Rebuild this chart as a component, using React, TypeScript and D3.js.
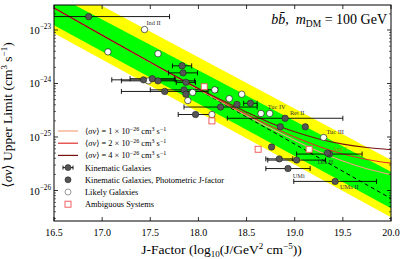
import React from "react";
import { scaleLinear, scaleLog, line, area, curveMonotoneX, format } from "d3";

const width = 407;
const height = 259;
const margin = { top: 5, right: 16, bottom: 38, left: 54 };

// expected sensitivity bands (J = 16.5 and 20.0)
const bandJ = [16.5, 20.0];
const yellowHi = [8.5e-23, 3.72e-26];
const greenHi = [4.68e-23, 2.24e-26];
const greenLo = [1.23e-23, 4.68e-27];
const yellowLo = [8.7e-24, 3.16e-27];
const median = [2.57e-23, 7.08e-27];

// limit curves for injected signals
const curveJ = [16.5, 17, 17.5, 18, 18.25, 18.5, 18.75, 19, 19.25, 19.5, 19.75, 20];
const sv1 = [2.57e-23, 7.94e-24, 2.466e-24, 7.73e-25, 4.43e-25, 2.53e-25, 1.45e-25, 8.69e-26, 5.37e-26, 3.56e-26, 2.55e-26, 1.98e-26];
const sv2 = [2.58e-23, 7.96e-24, 2.48e-24, 7.85e-25, 4.55e-25, 2.65e-25, 1.58e-25, 9.95e-26, 6.64e-26, 4.83e-26, 3.81e-26, 3.25e-26];
const sv4 = [2.58e-23, 8.0e-24, 2.51e-24, 8.1e-25, 4.81e-25, 2.91e-25, 1.83e-25, 1.25e-25, 9.18e-26, 7.36e-26, 6.35e-26, 5.79e-26];

// kinematic galaxies (filled), J-factor error half width (0 = none)
const filledJ = [16.86, 17.43, 17.52, 17.58, 17.65, 17.83, 17.84, 17.87, 17.85, 17.87, 17.97, 18.23, 18.4, 18.54, 18.9, 18.85, 19.11, 18.76, 18.84, 19.02, 19.36, 19.34, 18.93, 19.42];
const filledSv = [1.78e-23, 1.17e-24, 1.23e-24, 1.12e-24, 7.1e-25, 2.14e-24, 1.58e-24, 1.05e-24, 7.6e-25, 6.3e-25, 2.63e-25, 3.63e-25, 4.07e-25, 4.27e-25, 2.24e-25, 1.55e-25, 1.55e-25, 6.5e-26, 3.9e-26, 3.7e-26, 4.8e-26, 5.0e-26, 2.57e-26, 1.48e-26];
const filledErr = [0.84, 0.33, 0.23, 0.38, 0.45, 0.1, 0.15, 0.1, 0.35, 0, 0.18, 0.38, 0, 0.07, 0.6, 0, 0, 0, 0.14, 0.3, 0.34, 0, 0.23, 0.43];

// likely galaxies (open)
const openJ = [17.44, 17.06, 17.58, 17.48, 17.94, 17.89, 18.17, 18.32, 18.45, 18.14, 18.65, 18.74, 19.3];
const openSv = [1.02e-23, 3.9e-24, 3.6e-24, 1.12e-24, 6.8e-25, 4.8e-25, 7.6e-25, 5.2e-25, 6.3e-25, 2.63e-25, 2.75e-25, 2.75e-25, 9.8e-26];

// ambiguous systems
const ambJ = [18.06, 18.14, 18.62, 19.15];
const ambSv = [8.7e-25, 2.0e-25, 5.9e-26, 5.9e-26];

// galaxy name labels
const labelNames = ["Ind II", "Tuc IV", "Ret II", "Tuc III", "Seg 1", "Dra II", "UMi", "UMa II"];
const labelJ = [17.46, 18.72, 18.95, 19.33, 19.4, 19.24, 18.98, 19.47];
const labelSv = [1.23e-23, 3.4e-25, 2.57e-25, 1.15e-25, 5.5e-26, 3.16e-26, 1.7e-26, 1.07e-26];

const xTicks = [16.5, 17.0, 17.5, 18.0, 18.5, 19.0, 19.5, 20.0];
const yMajor = [-26, -25, -24, -23];

const legendLines = [
  { label: "1", color: "#f4a081" },
  { label: "2", color: "#e0302a" },
  { label: "4", color: "#7a1212" },
];

const serif = "'Liberation Serif', 'DejaVu Serif', serif";

const App = () => {
  const innerW = width - margin.left - margin.right;
  const innerH = height - margin.top - margin.bottom;
  const x = scaleLinear().domain([16.5, 20.0]).range([0, innerW]);
  const y = scaleLog().domain([Math.pow(10, -26.57), Math.pow(10, -22.533)]).range([innerH, 0]);

  const band = (hi: number[], lo: number[]) =>
    area<number>()
      .x((_, i) => x(bandJ[i]))
      .y0((_, i) => y(lo[i]))
      .y1((_, i) => y(hi[i]))(bandJ.map((_, i) => i)) || "";

  const curve = (vals: number[]) =>
    line<number>()
      .x((_, i) => x(curveJ[i]))
      .y((d) => y(d))
      .curve(curveMonotoneX)(vals) || "";

  const medianPath = line<number>()
    .x((_, i) => x(bandJ[i]))
    .y((d) => y(d))(median) || "";

  const minorTicks = y.ticks(40).filter((t) => {
    const l = Math.log10(t);
    return Math.abs(l - Math.round(l)) > 1e-6;
  });

  const fmt = format(".1f");

  return (
    <svg width={width} height={height} style={{ position: "absolute", left: 0, top: 0, fontFamily: serif }}>
      <defs>
        <clipPath id="plotClip">
          <rect x={0} y={0} width={innerW} height={innerH} />
        </clipPath>
      </defs>
      <g transform={`translate(${margin.left},${margin.top})`}>
        <g clipPath="url(#plotClip)">
          <path d={band(yellowHi, yellowLo)} fill="#ffff00" />
          <path d={band(greenHi, greenLo)} fill="#00ff00" />
          <path d={medianPath} fill="none" stroke="#000" strokeWidth={1} strokeDasharray="4,3" />
          <path d={curve(sv1)} fill="none" stroke={legendLines[0].color} strokeWidth={1.1} />
          <path d={curve(sv2)} fill="none" stroke={legendLines[1].color} strokeWidth={1.1} />
          <path d={curve(sv4)} fill="none" stroke={legendLines[2].color} strokeWidth={1.1} />

          {/* error bars */}
          {filledJ.map((j, i) =>
            filledErr[i] > 0 ? (
              <g key={"e" + i} stroke="#000" strokeWidth={0.9}>
                <line x1={x(j - filledErr[i])} x2={x(j + filledErr[i])} y1={y(filledSv[i])} y2={y(filledSv[i])} />
                <line x1={x(j - filledErr[i])} x2={x(j - filledErr[i])} y1={y(filledSv[i]) - 2.5} y2={y(filledSv[i]) + 2.5} />
                <line x1={x(j + filledErr[i])} x2={x(j + filledErr[i])} y1={y(filledSv[i]) - 2.5} y2={y(filledSv[i]) + 2.5} />
              </g>
            ) : null
          )}

          {openJ.map((j, i) => (
            <circle key={"o" + i} cx={x(j)} cy={y(openSv[i])} r={3.2} fill="#fff" stroke="#000" strokeWidth={0.6} />
          ))}
          {ambJ.map((j, i) => (
            <rect key={"a" + i} x={x(j) - 3} y={y(ambSv[i]) - 3} width={6} height={6} fill="#fff" stroke="#f05050" strokeWidth={0.9} />
          ))}
          {filledJ.map((j, i) => (
            <circle key={"f" + i} cx={x(j)} cy={y(filledSv[i])} r={3.2} fill="#555" stroke="#222" strokeWidth={0.6} />
          ))}

          {labelNames.map((n, i) => (
            <text key={n} x={x(labelJ[i])} y={y(labelSv[i])} fontSize={6.3} fill={n === "Seg 1" ? "#a08c10" : "#333"}>
              {n}
            </text>
          ))}
        </g>

        {/* frame */}
        <rect x={0} y={0} width={innerW} height={innerH} fill="none" stroke="#000" strokeWidth={1} />

        {/* x ticks */}
        {xTicks.map((t) => (
          <g key={t} transform={`translate(${x(t)},0)`}>
            <line y1={innerH} y2={innerH - 4} stroke="#000" strokeWidth={0.8} />
            <line y1={0} y2={4} stroke="#000" strokeWidth={0.8} />
            <text y={innerH + 14.5} textAnchor="middle" fontSize={10}>
              {fmt(t)}
            </text>
          </g>
        ))}

        {/* y ticks */}
        {yMajor.map((p) => {
          const py = y(Math.pow(10, p));
          return (
            <g key={p}>
              <line x1={0} x2={4} y1={py} y2={py} stroke="#000" strokeWidth={0.8} />
              <line x1={innerW} x2={innerW - 4} y1={py} y2={py} stroke="#000" strokeWidth={0.8} />
              <text x={-3} y={py + 4} textAnchor="end" fontSize={10.5}>
                10<tspan dy={-5} fontSize={7.2}>{"\u2212" + Math.abs(p)}</tspan>
              </text>
            </g>
          );
        })}
        {minorTicks.map((t, i) => (
          <g key={"m" + i}>
            <line x1={0} x2={2} y1={y(t)} y2={y(t)} stroke="#000" strokeWidth={0.6} />
            <line x1={innerW} x2={innerW - 2} y1={y(t)} y2={y(t)} stroke="#000" strokeWidth={0.6} />
          </g>
        ))}

        {/* title */}
        <text x={innerW - 4} y={19} textAnchor="end" fontSize={14}>
          <tspan fontStyle="italic">{"bb\u0304"}</tspan>
          <tspan>{",\u2002"}</tspan>
          <tspan fontStyle="italic">m</tspan>
          <tspan dy={3} fontSize={9.5}>DM</tspan>
          <tspan dy={-3}>{" = 100 GeV"}</tspan>
        </text>

        {/* legend */}
        <g fontSize={8.4}>
          {legendLines.map((l, i) => (
            <g key={l.label} transform={`translate(0,${131 + i * 12.2 - margin.top})`}>
              <line x1={4} x2={24} y1={0} y2={0} stroke={l.color} strokeWidth={1.2} />
              <text x={31} y={3}>
                {"\u27e8"}
                <tspan fontStyle="italic">{"\u03c3v"}</tspan>
                {"\u27e9 = " + l.label + " \u00d7 10"}
                <tspan dy={-3.3} fontSize={6}>{"\u221226"}</tspan>
                <tspan dy={3.3}>{" cm"}</tspan>
                <tspan dy={-3.3} fontSize={6}>3</tspan>
                <tspan dy={3.3}>{" s"}</tspan>
                <tspan dy={-3.3} fontSize={6}>{"\u22121"}</tspan>
              </text>
            </g>
          ))}
          <g transform={`translate(0,${167.6 - margin.top})`}>
            <line x1={9} x2={19} y1={0} y2={0} stroke="#000" strokeWidth={0.9} />
            <line x1={9} x2={9} y1={-2} y2={2} stroke="#000" strokeWidth={0.9} />
            <line x1={19} x2={19} y1={-2} y2={2} stroke="#000" strokeWidth={0.9} />
            <circle cx={14} cy={0} r={3} fill="#555" stroke="#222" strokeWidth={0.6} />
            <text x={31} y={3}>Kinematic Galaxies</text>
          </g>
          <g transform={`translate(0,${179.8 - margin.top})`}>
            <circle cx={14} cy={0} r={3} fill="#555" stroke="#222" strokeWidth={0.6} />
            <text x={31} y={3}>Kinematic Galaxies, Photometric J-factor</text>
          </g>
          <g transform={`translate(0,${192 - margin.top})`}>
            <circle cx={14} cy={0} r={3} fill="#fff" stroke="#555" strokeWidth={0.6} />
            <text x={31} y={3}>Likely Galaxies</text>
          </g>
          <g transform={`translate(0,${204.2 - margin.top})`}>
            <rect x={11} y={-3} width={6} height={6} fill="#fff" stroke="#f05050" strokeWidth={0.9} />
            <text x={31} y={3}>Ambiguous Systems</text>
          </g>
        </g>

        {/* axis labels */}
        <text x={innerW / 2 - 1} y={innerH + 33} textAnchor="middle" fontSize={13.5}>
          {"J-Factor (log"}
          <tspan dy={3} fontSize={9}>10</tspan>
          <tspan dy={-3}>{"(J/GeV"}</tspan>
          <tspan dy={-5} fontSize={9}>2</tspan>
          <tspan dy={5}>{" cm"}</tspan>
          <tspan dy={-5} fontSize={9}>{"\u22125"}</tspan>
          <tspan dy={5}>{"))"}</tspan>
        </text>
        <text transform={`translate(${-42},${innerH / 2 + 2}) rotate(-90)`} textAnchor="middle" fontSize={13.5}>
          {"\u27e8"}
          <tspan fontStyle="italic">{"\u03c3v"}</tspan>
          {"\u27e9 Upper Limit (cm"}
          <tspan dy={-5} fontSize={9}>3</tspan>
          <tspan dy={5}>{" s"}</tspan>
          <tspan dy={-5} fontSize={9}>{"\u22121"}</tspan>
          <tspan dy={5}>)</tspan>
        </text>
      </g>
    </svg>
  );
};

export default App;
